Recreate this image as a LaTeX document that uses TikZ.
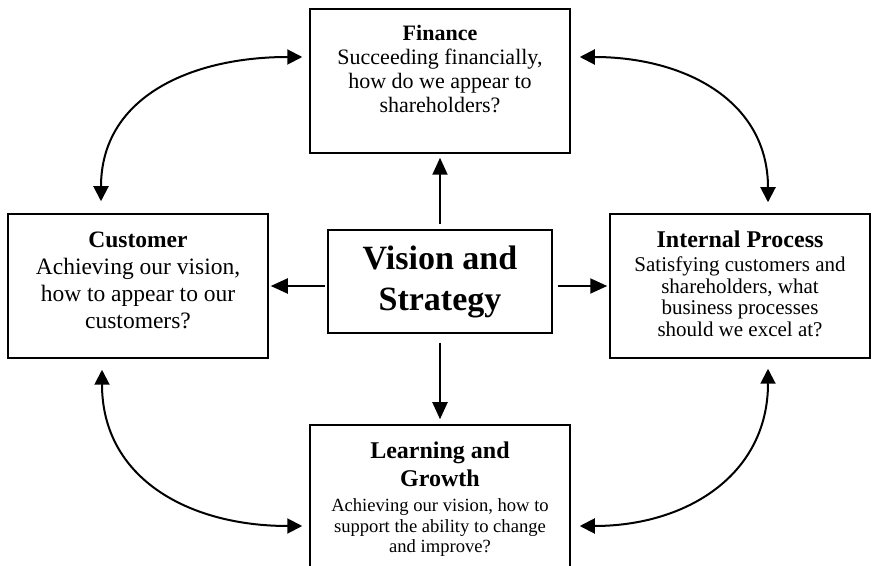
\documentclass[tikz,border=0pt]{standalone}
\usepackage{fontspec}
\setmainfont{Liberation Serif}
\usetikzlibrary{arrows.meta}

\begin{document}
\begin{tikzpicture}[
      x=1pt, y=1pt,
      box/.style={draw, line width=1.5pt, minimum width=260pt, minimum height=144pt, inner sep=0pt},
      txt/.style={anchor=north, align=center, inner sep=0pt},
      arr/.style={-{Triangle[length=17pt, width=15pt]}, line width=2pt},
      link/.style={{Triangle[length=15pt, width=15pt]}-{Triangle[length=15pt, width=15pt]}, line width=2pt, looseness=1.15},
    ]
    \clip (0,0) rectangle (872,565);
    % --- the four perspective boxes and the centre box ----------------
    \node[box] (fin) at (440,484) {};
    \node[box] (cus) at (138,279) {};
    \node[box] (int) at (740,279) {};
    \node[box] (lrn) at (440,68) {};
    \node[draw, line width=1.5pt, minimum width=224pt, minimum height=103pt,
          align=center, font=\bfseries\fontsize{34}{41}\selectfont] (vis) at (440,283.5)
      {Vision and\\Strategy};
    % --- box texts -----------------------------------------------------
    \node[txt, font=\fontsize{22}{24}\selectfont] (finTxt) at ([yshift=-17pt]fin.north)
      {\textbf{Finance}\\Succeeding financially,\\how do we appear to\\shareholders?};
    \node[txt, font=\fontsize{23.5}{27}\selectfont] (cusTxt) at ([yshift=-18pt]cus.north)
      {\textbf{Customer}\\Achieving our vision,\\how to appear to our\\customers?};
    \node[txt, font=\fontsize{21}{21.5}\selectfont] (intTxt) at ([yshift=-17pt]int.north)
      {{\bfseries\fontsize{24}{26}\selectfont Internal Process}\\[3pt]Satisfying customers and\\shareholders, what\\business processes\\should we excel at?};
    \node[txt, font=\fontsize{18.6}{20.5}\selectfont] (lrnTxt) at ([yshift=-17pt]lrn.north)
      {{\bfseries\fontsize{24}{26}\selectfont Learning and}\\[5pt]{\bfseries\fontsize{24}{26}\selectfont Growth}\\[5pt]Achieving our vision, how to\\support the ability to change\\and improve?};
    % --- straight arrows out of the centre ----------------------------
    \draw[arr, shorten <=5pt, shorten >=4pt] (vis.north) -- (fin.south);
    \draw[arr, shorten <=9pt, shorten >=5pt] (vis.south) -- (lrn.north);
    \draw[arr, shorten <=2pt, shorten >=2pt] (vis.west |- cus.east) -- (cus.east);
    \draw[arr, shorten <=5pt, shorten >=2pt] (vis.east |- int.west) -- (int.west);
    % --- curved two-way links between neighbouring boxes --------------
    \draw[link, shorten <=7pt, shorten >=12pt] ([yshift=24pt]fin.west) to[out=180, in=90] ([xshift=-37pt]cus.north);
    \draw[link, shorten <=9pt, shorten >=11pt] ([yshift=24pt]fin.east) to[out=0, in=90] ([xshift=28pt]int.north);
    \draw[link, shorten <=11pt, shorten >=7pt] ([xshift=-36pt]cus.south) to[out=-90, in=180] ([yshift=-29pt]lrn.west);
    \draw[link, shorten <=10pt, shorten >=9pt] ([xshift=28pt]int.south) to[out=-90, in=0] ([yshift=-29pt]lrn.east);
  \end{tikzpicture}
\end{document}
